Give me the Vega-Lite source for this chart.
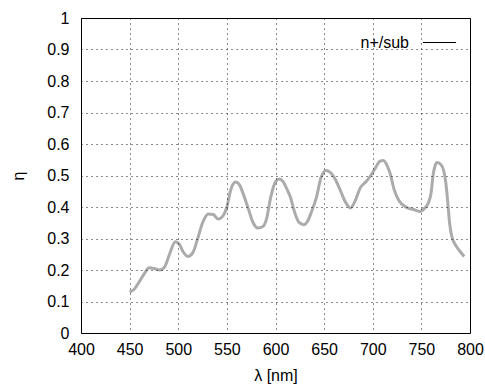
{
  "$schema": "https://vega.github.io/schema/vega-lite/v6.json",
  "width": 389,
  "height": 315,
  "autosize": {"type": "none"},
  "padding": {"left": 81, "top": 18, "right": 15, "bottom": 53},
  "background": "white",
  "config": {
    "view": {"stroke": "black", "strokeWidth": 1},
    "font": "Liberation Sans",
    "axis": {
      "grid": true,
      "gridColor": "black",
      "gridDash": [1, 4],
      "gridOpacity": 0.9,
      "gridWidth": 1,
      "domain": false,
      "ticks": false,
      "labelFont": "Liberation Sans",
      "labelFontSize": 16,
      "labelColor": "black",
      "titleFont": "Liberation Sans",
      "titleFontSize": 16,
      "titleFontWeight": "normal",
      "titleColor": "black"
    }
  },
  "data": {
    "values": [
      {"lambda": 450, "eta": 0.130, "series": "n+/sub"},
      {"lambda": 455, "eta": 0.140, "series": "n+/sub"},
      {"lambda": 460, "eta": 0.163, "series": "n+/sub"},
      {"lambda": 465, "eta": 0.188, "series": "n+/sub"},
      {"lambda": 470, "eta": 0.207, "series": "n+/sub"},
      {"lambda": 475, "eta": 0.205, "series": "n+/sub"},
      {"lambda": 481, "eta": 0.200, "series": "n+/sub"},
      {"lambda": 486, "eta": 0.210, "series": "n+/sub"},
      {"lambda": 491, "eta": 0.250, "series": "n+/sub"},
      {"lambda": 497, "eta": 0.290, "series": "n+/sub"},
      {"lambda": 501, "eta": 0.282, "series": "n+/sub"},
      {"lambda": 505, "eta": 0.258, "series": "n+/sub"},
      {"lambda": 510, "eta": 0.243, "series": "n+/sub"},
      {"lambda": 515, "eta": 0.255, "series": "n+/sub"},
      {"lambda": 520, "eta": 0.300, "series": "n+/sub"},
      {"lambda": 525, "eta": 0.350, "series": "n+/sub"},
      {"lambda": 531, "eta": 0.378, "series": "n+/sub"},
      {"lambda": 536, "eta": 0.376, "series": "n+/sub"},
      {"lambda": 541, "eta": 0.362, "series": "n+/sub"},
      {"lambda": 546, "eta": 0.372, "series": "n+/sub"},
      {"lambda": 550, "eta": 0.400, "series": "n+/sub"},
      {"lambda": 554, "eta": 0.455, "series": "n+/sub"},
      {"lambda": 559, "eta": 0.479, "series": "n+/sub"},
      {"lambda": 563, "eta": 0.470, "series": "n+/sub"},
      {"lambda": 567, "eta": 0.440, "series": "n+/sub"},
      {"lambda": 572, "eta": 0.395, "series": "n+/sub"},
      {"lambda": 577, "eta": 0.350, "series": "n+/sub"},
      {"lambda": 582, "eta": 0.333, "series": "n+/sub"},
      {"lambda": 587, "eta": 0.338, "series": "n+/sub"},
      {"lambda": 591, "eta": 0.365, "series": "n+/sub"},
      {"lambda": 595, "eta": 0.430, "series": "n+/sub"},
      {"lambda": 600, "eta": 0.480, "series": "n+/sub"},
      {"lambda": 604, "eta": 0.489, "series": "n+/sub"},
      {"lambda": 608, "eta": 0.480, "series": "n+/sub"},
      {"lambda": 612, "eta": 0.455, "series": "n+/sub"},
      {"lambda": 615, "eta": 0.434, "series": "n+/sub"},
      {"lambda": 620, "eta": 0.380, "series": "n+/sub"},
      {"lambda": 624, "eta": 0.352, "series": "n+/sub"},
      {"lambda": 629, "eta": 0.344, "series": "n+/sub"},
      {"lambda": 633, "eta": 0.355, "series": "n+/sub"},
      {"lambda": 637, "eta": 0.385, "series": "n+/sub"},
      {"lambda": 642, "eta": 0.430, "series": "n+/sub"},
      {"lambda": 647, "eta": 0.495, "series": "n+/sub"},
      {"lambda": 652, "eta": 0.516, "series": "n+/sub"},
      {"lambda": 657, "eta": 0.508, "series": "n+/sub"},
      {"lambda": 662, "eta": 0.485, "series": "n+/sub"},
      {"lambda": 667, "eta": 0.450, "series": "n+/sub"},
      {"lambda": 672, "eta": 0.415, "series": "n+/sub"},
      {"lambda": 677, "eta": 0.397, "series": "n+/sub"},
      {"lambda": 682, "eta": 0.420, "series": "n+/sub"},
      {"lambda": 687, "eta": 0.460, "series": "n+/sub"},
      {"lambda": 693, "eta": 0.480, "series": "n+/sub"},
      {"lambda": 698, "eta": 0.500, "series": "n+/sub"},
      {"lambda": 703, "eta": 0.525, "series": "n+/sub"},
      {"lambda": 707, "eta": 0.545, "series": "n+/sub"},
      {"lambda": 711, "eta": 0.548, "series": "n+/sub"},
      {"lambda": 715, "eta": 0.530, "series": "n+/sub"},
      {"lambda": 718, "eta": 0.505, "series": "n+/sub"},
      {"lambda": 722, "eta": 0.455, "series": "n+/sub"},
      {"lambda": 727, "eta": 0.420, "series": "n+/sub"},
      {"lambda": 735, "eta": 0.398, "series": "n+/sub"},
      {"lambda": 742, "eta": 0.392, "series": "n+/sub"},
      {"lambda": 749, "eta": 0.386, "series": "n+/sub"},
      {"lambda": 753, "eta": 0.395, "series": "n+/sub"},
      {"lambda": 757, "eta": 0.412, "series": "n+/sub"},
      {"lambda": 760, "eta": 0.445, "series": "n+/sub"},
      {"lambda": 762, "eta": 0.500, "series": "n+/sub"},
      {"lambda": 764, "eta": 0.530, "series": "n+/sub"},
      {"lambda": 766, "eta": 0.541, "series": "n+/sub"},
      {"lambda": 770, "eta": 0.535, "series": "n+/sub"},
      {"lambda": 773, "eta": 0.515, "series": "n+/sub"},
      {"lambda": 775, "eta": 0.480, "series": "n+/sub"},
      {"lambda": 777, "eta": 0.420, "series": "n+/sub"},
      {"lambda": 779, "eta": 0.350, "series": "n+/sub"},
      {"lambda": 781, "eta": 0.310, "series": "n+/sub"},
      {"lambda": 786, "eta": 0.275, "series": "n+/sub"},
      {"lambda": 790, "eta": 0.258, "series": "n+/sub"},
      {"lambda": 794, "eta": 0.243, "series": "n+/sub"}
    ]
  },
  "mark": {"type": "line", "interpolate": "monotone", "strokeWidth": 3, "opacity": 0.33},
  "encoding": {
    "x": {
      "field": "lambda",
      "type": "quantitative",
      "scale": {"domain": [400, 800], "nice": false},
      "axis": {"values": [400, 450, 500, 550, 600, 650, 700, 750, 800], "title": "λ [nm]", "labelPadding": 8, "titlePadding": 10, "labelFlush": false}
    },
    "y": {
      "field": "eta",
      "type": "quantitative",
      "scale": {"domain": [0, 1], "nice": false},
      "axis": {"values": [0, 0.1, 0.2, 0.3, 0.4, 0.5, 0.6, 0.7, 0.8, 0.9, 1], "format": "~g", "title": "η", "labelPadding": 12, "titlePadding": 20, "labelFlush": false}
    },
    "color": {
      "field": "series",
      "type": "nominal",
      "scale": {"range": ["black"]},
      "legend": {
        "title": null,
        "orient": "none",
        "legendX": 341,
        "legendY": 7,
        "padding": 0,
        "symbolType": "stroke",
        "symbolSize": 1100,
        "symbolStrokeWidth": 1,
        "symbolOpacity": 1,
        "labelFontSize": 16,
        "labelFont": "Liberation Sans",
        "labelColor": "black",
        "labelAlign": "right",
        "labelOffset": -48
      }
    }
  }
}
